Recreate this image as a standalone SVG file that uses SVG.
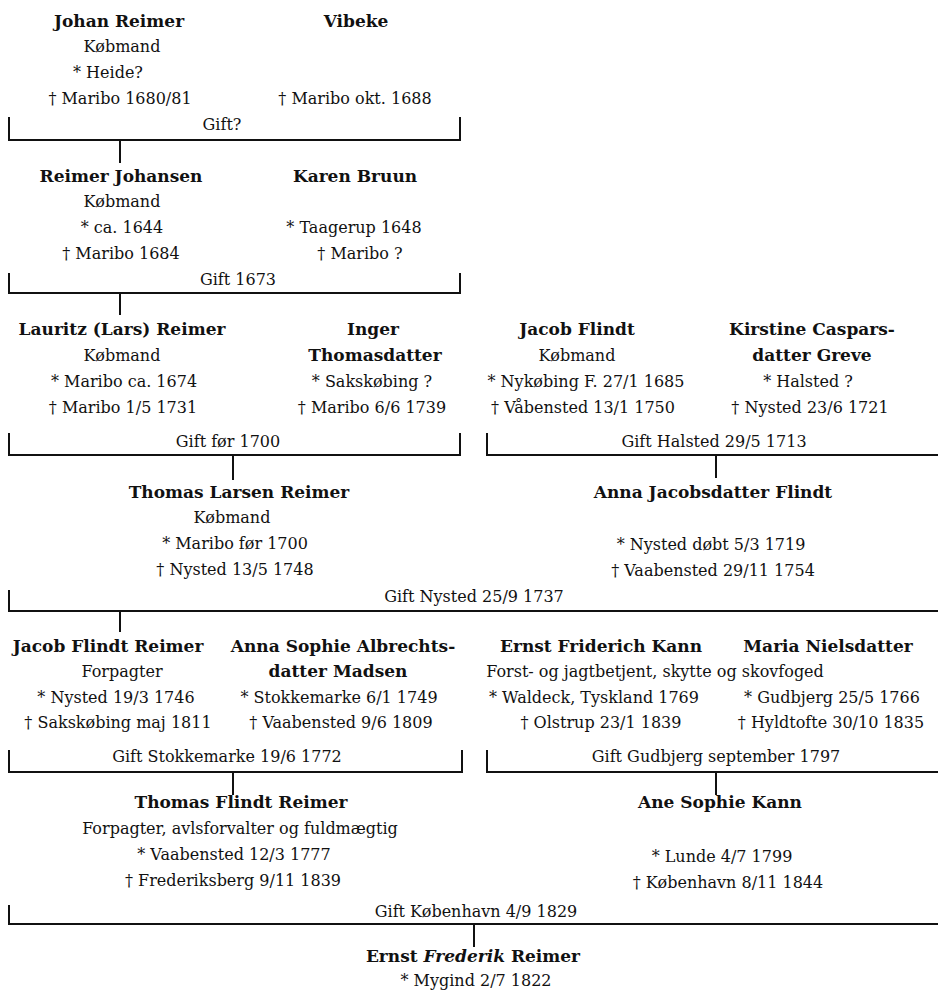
<svg xmlns="http://www.w3.org/2000/svg" width="938" height="995" viewBox="0 0 938 995">
<style>
text{font-family:"DejaVu Serif","Liberation Serif",serif;fill:#111;text-anchor:middle}
.n{font-weight:bold;font-size:17px}
.t{font-size:16px}
.c{stroke:#111;stroke-width:2;fill:none}
</style>
<rect width="938" height="995" fill="#fff"/>
<g id="connectors" class="c">
<path d="M9,117V140H460V117"/><path d="M120,140V163"/>
<path d="M9,273V293H460V273"/><path d="M120,293V315"/>
<path d="M9,433V455H460V433"/><path d="M233,455V480"/>
<path d="M487,433V455H938"/><path d="M716,455V478"/>
<path d="M9,590V611H938"/><path d="M120,611V632"/>
<path d="M9,750V772H462V750"/><path d="M233,772V795"/>
<path d="M487,750V772H938"/><path d="M716,772V795"/>
<path d="M9,905V924H938"/><path d="M474,924V947"/>
</g>
<g id="gift-labels" class="t">
<text x="222" y="130">Gift?</text>
<text x="238" y="285">Gift 1673</text>
<text x="228" y="447">Gift før 1700</text>
<text x="714" y="447">Gift Halsted 29/5 1713</text>
<text x="474" y="602">Gift Nysted 25/9 1737</text>
<text x="227" y="762">Gift Stokkemarke 19/6 1772</text>
<text x="716" y="762">Gift Gudbjerg september 1797</text>
<text x="476" y="917">Gift København 4/9 1829</text>
</g>
<g id="johan-reimer">
<text class="n" x="119" y="27">Johan Reimer</text>
<text class="t" x="122" y="52">Købmand</text>
<text class="t" x="108" y="78">* Heide?</text>
<text class="t" x="120" y="104">† Maribo 1680/81</text>
</g>
<g id="vibeke">
<text class="n" x="356" y="27">Vibeke</text>
<text class="t" x="355" y="104">† Maribo okt. 1688</text>
</g>
<g id="reimer-johansen">
<text class="n" x="121" y="182">Reimer Johansen</text>
<text class="t" x="122" y="207">Købmand</text>
<text class="t" x="122" y="233">* ca. 1644</text>
<text class="t" x="121" y="259">† Maribo 1684</text>
</g>
<g id="karen-bruun">
<text class="n" x="355" y="182">Karen Bruun</text>
<text class="t" x="354" y="233">* Taagerup 1648</text>
<text class="t" x="360" y="259">† Maribo ?</text>
</g>
<g id="lauritz-reimer">
<text class="n" x="122" y="335">Lauritz (Lars) Reimer</text>
<text class="t" x="122" y="361">Købmand</text>
<text class="t" x="124" y="387">* Maribo ca. 1674</text>
<text class="t" x="123" y="413">† Maribo 1/5 1731</text>
</g>
<g id="inger-thomasdatter">
<text class="n" x="373" y="335">Inger</text>
<text class="n" x="375" y="361">Thomasdatter</text>
<text class="t" x="372" y="387">* Sakskøbing ?</text>
<text class="t" x="372" y="413">† Maribo 6/6 1739</text>
</g>
<g id="jacob-flindt">
<text class="n" x="577" y="335">Jacob Flindt</text>
<text class="t" x="577" y="361">Købmand</text>
<text class="t" x="586" y="387">* Nykøbing F. 27/1 1685</text>
<text class="t" x="583" y="413">† Våbensted 13/1 1750</text>
</g>
<g id="kirstine-greve">
<text class="n" x="812" y="335">Kirstine Caspars-</text>
<text class="n" x="812" y="361">datter Greve</text>
<text class="t" x="808" y="387">* Halsted ?</text>
<text class="t" x="810" y="413">† Nysted 23/6 1721</text>
</g>
<g id="thomas-larsen-reimer">
<text class="n" x="239" y="498">Thomas Larsen Reimer</text>
<text class="t" x="232" y="523">Købmand</text>
<text class="t" x="235" y="549">* Maribo før 1700</text>
<text class="t" x="235" y="575">† Nysted 13/5 1748</text>
</g>
<g id="anna-jacobsdatter-flindt">
<text class="n" x="713" y="498">Anna Jacobsdatter Flindt</text>
<text class="t" x="711" y="550">* Nysted døbt 5/3 1719</text>
<text class="t" x="713" y="576">† Vaabensted 29/11 1754</text>
</g>
<g id="jacob-flindt-reimer">
<text class="n" x="108" y="652">Jacob Flindt Reimer</text>
<text class="t" x="122" y="677">Forpagter</text>
<text class="t" x="116" y="703">* Nysted 19/3 1746</text>
<text class="t" x="118" y="728">† Sakskøbing maj 1811</text>
</g>
<g id="anna-sophie-madsen">
<text class="n" x="343" y="652">Anna Sophie Albrechts-</text>
<text class="n" x="338" y="677">datter Madsen</text>
<text class="t" x="339" y="703">* Stokkemarke 6/1 1749</text>
<text class="t" x="341" y="728">† Vaabensted 9/6 1809</text>
</g>
<g id="ernst-friderich-kann">
<text class="n" x="601" y="652">Ernst Friderich Kann</text>
<text class="t" x="655" y="677">Forst- og jagtbetjent, skytte og skovfoged</text>
<text class="t" x="594" y="703">* Waldeck, Tyskland 1769</text>
<text class="t" x="601" y="728">† Olstrup 23/1 1839</text>
</g>
<g id="maria-nielsdatter">
<text class="n" x="828" y="652">Maria Nielsdatter</text>
<text class="t" x="832" y="703">* Gudbjerg 25/5 1766</text>
<text class="t" x="831" y="728">† Hyldtofte 30/10 1835</text>
</g>
<g id="thomas-flindt-reimer">
<text class="n" x="241" y="808">Thomas Flindt Reimer</text>
<text class="t" x="240" y="834">Forpagter, avlsforvalter og fuldmægtig</text>
<text class="t" x="234" y="860">* Vaabensted 12/3 1777</text>
<text class="t" x="233" y="886">† Frederiksberg 9/11 1839</text>
</g>
<g id="ane-sophie-kann">
<text class="n" x="720" y="808">Ane Sophie Kann</text>
<text class="t" x="722" y="862">* Lunde 4/7 1799</text>
<text class="t" x="728" y="888">† København 8/11 1844</text>
</g>
<g id="ernst-frederik-reimer">
<text class="n" x="473" y="962">Ernst <tspan font-style="italic">Frederik</tspan> Reimer</text>
<text class="t" x="476" y="986">* Mygind 2/7 1822</text>
</g>
</svg>
